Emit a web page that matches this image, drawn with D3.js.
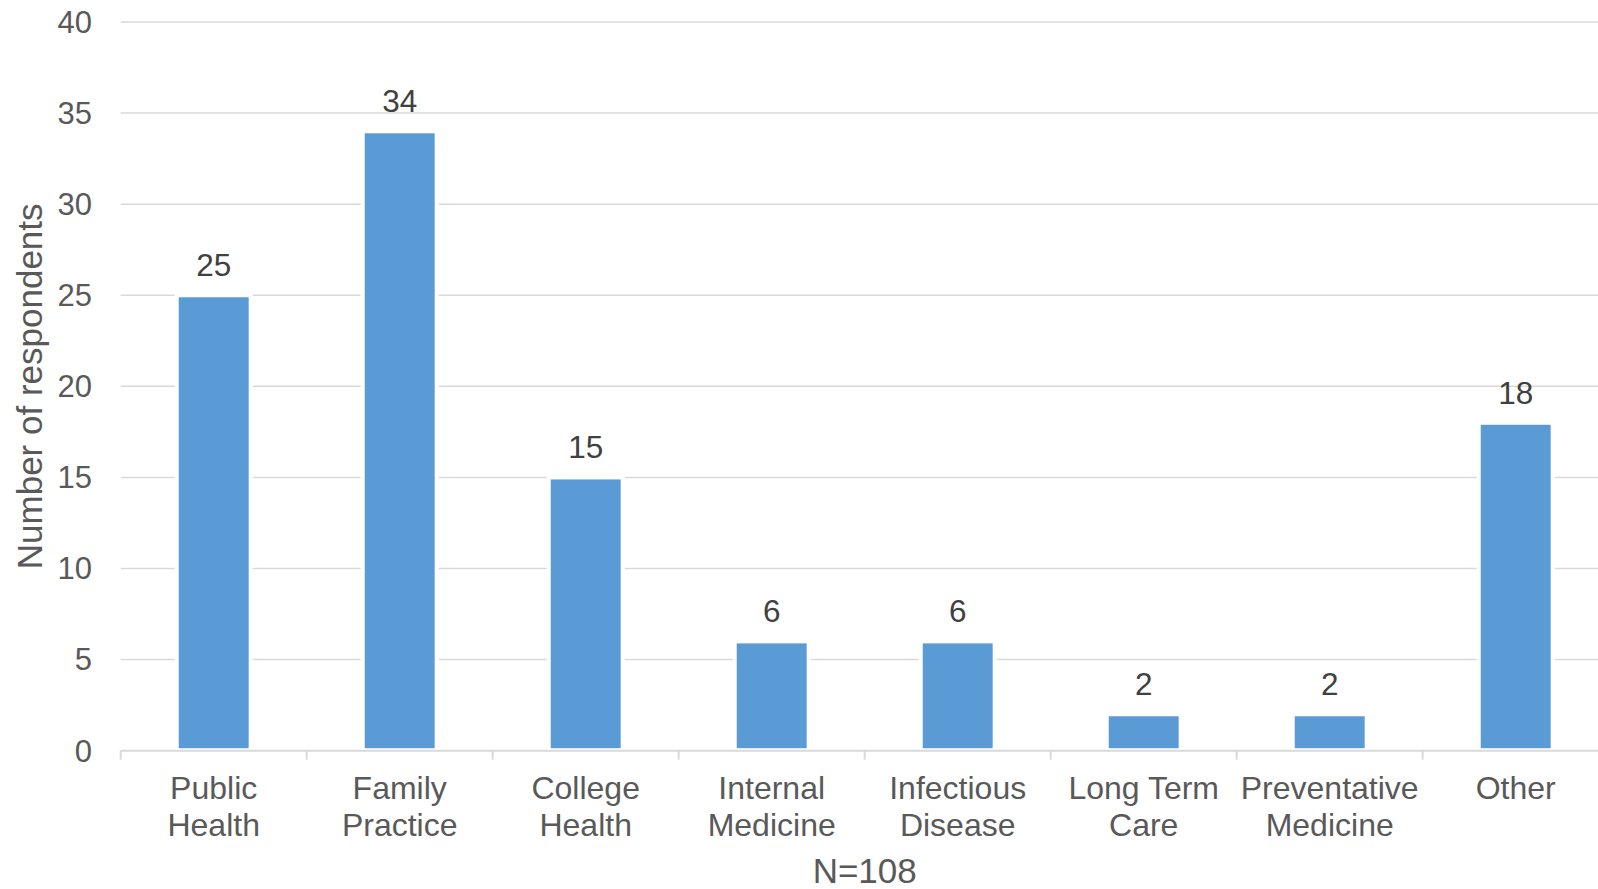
<!DOCTYPE html>
<html>
<head>
<meta charset="utf-8">
<script src="https://cdn.jsdelivr.net/npm/d3@7"></script>
<style>
  body { margin: 0; background: #fff; }
  text { font-family: "Liberation Sans", Arial, sans-serif; }
</style>
</head>
<body>
<div id="chart"></div>
<script>
const width = 1598
const height = 889

// data
const categories = [
  ["Public", "Health"],
  ["Family", "Practice"],
  ["College", "Health"],
  ["Internal", "Medicine"],
  ["Infectious", "Disease"],
  ["Long Term", "Care"],
  ["Preventative", "Medicine"],
  ["Other"]
]
const values = [25, 34, 15, 6, 6, 2, 2, 18]
const yTicks = [0, 5, 10, 15, 20, 25, 30, 35, 40]
const xTitle = "N=108"
const yTitle = "Number of respondents"

const plotLeft = 120.7, plotRight = 1608.7, plotTop = 22, plotBottom = 750.7

const svg = d3.select("#chart")
    .append("svg")
    .attr("width", width)
    .attr("height", height)

const keys = categories.map(c => c.join(" "))
const x = d3.scaleBand().domain(keys).range([plotLeft, plotRight]).padding(0)
const y = d3.scaleLinear().domain([0, 40]).range([plotBottom, plotTop])

// gridlines
svg.append("g")
    .selectAll("line")
    .data(yTicks.filter(t => t > 0))
    .enter()
    .append("line")
    .attr("x1", plotLeft)
    .attr("x2", width)
    .attr("y1", d => y(d))
    .attr("y2", d => y(d))
    .attr("stroke", "#d9d9d9")
    .attr("stroke-width", 1.5)

// y tick labels
svg.append("g")
    .selectAll("text")
    .data(yTicks)
    .enter()
    .append("text")
    .attr("x", 92)
    .attr("y", d => y(d))
    .attr("dy", "0.35em")
    .attr("text-anchor", "end")
    .attr("font-size", 31)
    .attr("fill", "#595959")
    .text(d => d)

// bars
const bw = x.bandwidth() * 0.376
const bars = svg.append("g")
const rows = values.map((v, i) => ({ k: keys[i], v: v }))

bars.selectAll("rect.halo")
    .data(rows)
    .enter()
    .append("rect")
    .attr("class", "halo")
    .attr("x", d => x(d.k) + x.bandwidth() / 2 - bw / 2 - 4)
    .attr("width", bw + 8)
    .attr("y", d => y(d.v) - 2)
    .attr("height", d => y(0) - y(d.v) + 2)
    .attr("fill", "#fff")

bars.selectAll("rect.bar")
    .data(rows)
    .enter()
    .append("rect")
    .attr("class", "bar")
    .attr("x", d => x(d.k) + x.bandwidth() / 2 - bw / 2)
    .attr("width", bw)
    .attr("y", d => y(d.v) + 2)
    .attr("height", d => y(0) - y(d.v) - 4.5)
    .attr("fill", "#5b9bd5")

// value labels
bars.selectAll("text")
    .data(rows)
    .enter()
    .append("text")
    .attr("x", d => x(d.k) + x.bandwidth() / 2)
    .attr("y", d => y(d.v) - 19)
    .attr("text-anchor", "middle")
    .attr("font-size", 31.5)
    .attr("fill", "#404040")
    .text(d => d.v)

// x axis line and ticks
svg.append("line")
    .attr("x1", plotLeft)
    .attr("x2", width)
    .attr("y1", plotBottom)
    .attr("y2", plotBottom)
    .attr("stroke", "#d9d9d9")
    .attr("stroke-width", 2)

svg.append("g")
    .selectAll("line")
    .data(keys)
    .enter()
    .append("line")
    .attr("x1", d => x(d))
    .attr("x2", d => x(d))
    .attr("y1", plotBottom)
    .attr("y2", plotBottom + 9)
    .attr("stroke", "#d9d9d9")
    .attr("stroke-width", 2)

// category labels
const cl = svg.append("g")
    .selectAll("text")
    .data(categories)
    .enter()
    .append("text")
    .attr("x", (d, i) => x(keys[i]) + x.bandwidth() / 2)
    .attr("y", plotBottom + 48)
    .attr("text-anchor", "middle")
    .attr("font-size", 32)
    .attr("fill", "#595959")

cl.selectAll("tspan")
    .data(d => d)
    .enter()
    .append("tspan")
    .attr("x", function () { return d3.select(this.parentNode).attr("x") })
    .attr("dy", (d, i) => i === 0 ? 0 : 37)
    .text(d => d)

// axis titles
svg.append("text")
    .attr("x", (plotLeft + plotRight) / 2)
    .attr("y", 883)
    .attr("text-anchor", "middle")
    .attr("font-size", 35)
    .attr("fill", "#595959")
    .text(xTitle)

svg.append("text")
    .attr("transform", `translate(42, ${(plotTop + plotBottom) / 2}) rotate(-90)`)
    .attr("text-anchor", "middle")
    .attr("font-size", 35)
    .attr("fill", "#595959")
    .text(yTitle)
</script>
</body>
</html>
